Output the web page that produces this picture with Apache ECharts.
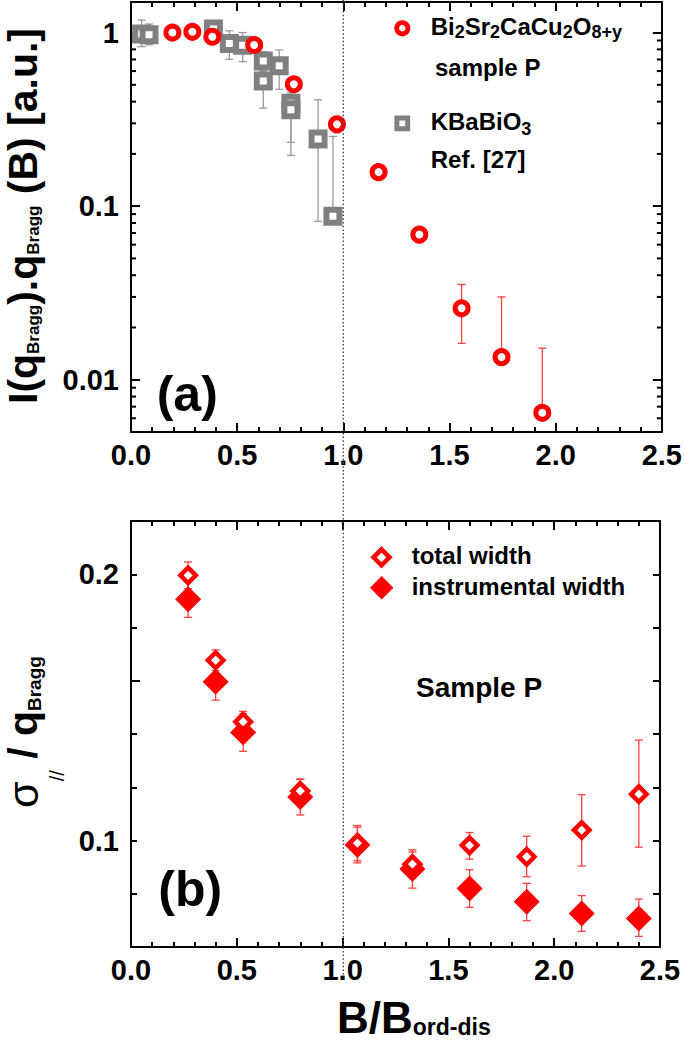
<!DOCTYPE html>
<html><head><meta charset="utf-8">
<script src="https://cdn.jsdelivr.net/npm/echarts@6/dist/echarts.min.js"></script>
<style>html,body{margin:0;padding:0;background:#fff}#c{width:685px;height:1041px}</style>
</head><body><div id="c"></div>
<script>
// ---------- Panel (a): I(q_Bragg).q_Bragg(B) ----------
const bsccoB  = [0.195, 0.289, 0.383, 0.580, 0.767, 0.970, 1.166, 1.358, 1.557, 1.745, 1.937];
const bsccoI  = [1.00, 1.01, 0.946, 0.848, 0.504, 0.296, 0.157, 0.0686, 0.0258, 0.0135, 0.00645];
const bsccoLo = [1.00, 1.01, 0.946, 0.848, 0.504, 0.296, 0.157, 0.0615, 0.0162, 0.0135, 0.00645];
const bsccoHi = [1.00, 1.01, 0.946, 0.848, 0.504, 0.296, 0.157, 0.0686, 0.0354, 0.0300, 0.0152];

const kbbB  = [0.050, 0.085, 0.388, 0.463, 0.526, 0.623, 0.623, 0.698, 0.753, 0.753, 0.881, 0.951];
const kbbI  = [0.98, 0.97, 1.05, 0.865, 0.845, 0.686, 0.526, 0.644, 0.392, 0.359, 0.244, 0.0874];
const kbbLo = [0.83, 0.85, 0.95, 0.701, 0.68, 0.60, 0.367, 0.471, 0.233, 0.196, 0.0817, 0.0874];
const kbbHi = [1.18, 1.12, 1.17, 1.024, 1.00, 0.775, 0.60, 0.793, 0.45, 0.42, 0.41, 0.252];

// ---------- Panel (b): sigma_// / q_Bragg ----------
const widthB  = [0.27, 0.40, 0.53, 0.80, 1.07, 1.33, 1.60, 1.87, 2.13, 2.40];
const totalW  = [0.1996, 0.1677, 0.1446, 0.1186, 0.0990, 0.0911, 0.0982, 0.0939, 0.1039, 0.1174];
const totalHi = [0.2046, 0.1716, 0.1485, 0.1231, 0.1056, 0.0957, 0.1030, 0.1016, 0.1172, 0.1377];
const totalLo = [0.1946, 0.1638, 0.1407, 0.1141, 0.0924, 0.0865, 0.0930, 0.0864, 0.0904, 0.0975];
const instrW  = [0.1906, 0.1596, 0.1406, 0.1163, 0.0983, 0.0893, 0.0820, 0.0770, 0.0726, 0.0707];
const instrHi = [0.1974, 0.1665, 0.1477, 0.1230, 0.1050, 0.0965, 0.0890, 0.0839, 0.0793, 0.0780];
const instrLo = [0.1838, 0.1527, 0.1335, 0.1096, 0.0916, 0.0821, 0.0749, 0.0699, 0.0659, 0.0640];

// ---------- ticks ----------
const yTicksA = [0.01, 0.1, 1];
const yMinorA = [0.006, 0.007, 0.008, 0.009, 0.02, 0.03, 0.04, 0.05, 0.06, 0.07, 0.08, 0.09,
                 0.2, 0.3, 0.4, 0.5, 0.6, 0.7, 0.8, 0.9];
const yTicksB = [0.1, 0.2];
const orderDisorder = 1.0;

const FONT = "'Liberation Sans', Arial, sans-serif";
const RED = '#ff0000', GRAY = '#808080';

const chart = echarts.init(document.getElementById('c'), null, {renderer: 'svg'});

const labelStyle = {fontFamily: FONT, fontWeight: 'bold', fontSize: 29, color: '#000'};
function xAxisPair(grid, withLabels, pos) {
  return {
    type: 'value', gridIndex: grid, position: pos, min: 0, max: 2.5, interval: 0.5,
    axisLine: {show: true, onZero: false, lineStyle: {color: '#000', width: 2}},
    axisTick: {show: true, inside: true, length: 9, lineStyle: {color: '#000', width: 2}},
    minorTick: {show: true, splitNumber: 5, length: 5, lineStyle: {color: '#000', width: 2}},
    splitLine: {show: false}, minorSplitLine: {show: false},
    axisLabel: withLabels ? Object.assign({margin: 8, formatter: v => v.toFixed(1)}, labelStyle) : {show: false}
  };
}
function near(list, v, logMode) {
  return list.find(t => logMode ? Math.abs(Math.log10(v / t)) < 1e-6 : Math.abs(v - t) < 1e-9);
}

const xAxes = [
  xAxisPair(0, true, 'bottom'), xAxisPair(0, false, 'top'),
  xAxisPair(1, true, 'bottom'), xAxisPair(1, false, 'top')
];
const logAxis = (pos, withLabels) => ({
  type: 'log', logBase: 10, gridIndex: 0, position: pos, min: 0.005, max: 1.5,
  axisLine: {show: true, onZero: false, lineStyle: {color: '#000', width: 2}},
  axisTick: {show: true, inside: true, length: 9, lineStyle: {color: '#000', width: 2}},
  splitLine: {show: false},
  axisLabel: withLabels ? Object.assign({margin: 12, showMinLabel: false, showMaxLabel: false,
    formatter: v => { const m = near(yTicksA, v, true); return m === undefined ? '' : String(m); }}, labelStyle)
    : {show: false}
});
const linAxis = (pos, interval, len, withLabels, showLine) => ({
  type: 'value', gridIndex: 1, position: pos, min: 0.06, max: 0.22, interval: interval,
  axisLine: {show: showLine, onZero: false, lineStyle: {color: '#000', width: 2}},
  axisTick: {show: true, inside: true, length: len, lineStyle: {color: '#000', width: 2}},
  splitLine: {show: false},
  axisLabel: withLabels ? Object.assign({margin: 12,
    formatter: v => { const m = near(yTicksB, v, false); return m === undefined ? '' : m.toFixed(1); }}, labelStyle)
    : {show: false}
});
const yAxes = [
  logAxis('left', true), logAxis('right', false),
  linAxis('left', 0.02, 6, true, true), linAxis('left', 0.1, 9, false, false), linAxis('right', 0.02, 7, false, true)
];

function errSeries(xi, yi, xs, ys, lo, hi, color) {
  return {
    type: 'custom', xAxisIndex: xi, yAxisIndex: yi, silent: true, clip: false,
    data: xs.map((x, i) => [x, ys[i], lo[i], hi[i]]),
    encode: {x: 0, y: 1},
    renderItem: (params, api) => {
      const x = api.value(0), v = api.value(1), l = api.value(2), h = api.value(3);
      const pV = api.coord([x, v]), pL = api.coord([x, l]), pH = api.coord([x, h]);
      const ch = [];
      const st = {stroke: color, lineWidth: 1.3};
      if (Math.abs(pL[1] - pH[1]) > 0.5) {
        ch.push({type: 'line', shape: {x1: pL[0], y1: pL[1], x2: pH[0], y2: pH[1]}, style: st});
        if (pH[1] < pV[1] - 0.5) ch.push({type: 'line', shape: {x1: pH[0] - 4, y1: pH[1], x2: pH[0] + 4, y2: pH[1]}, style: st});
        if (pL[1] > pV[1] + 0.5) ch.push({type: 'line', shape: {x1: pL[0] - 4, y1: pL[1], x2: pL[0] + 4, y2: pL[1]}, style: st});
      }
      return {type: 'group', children: ch};
    }
  };
}

const series = [
  { // logarithmic minor ticks of panel (a), on both vertical frame lines
    type: 'custom', xAxisIndex: 0, yAxisIndex: 0, silent: true, clip: false,
    data: yMinorA.map(v => [0, v]), encode: {x: 0, y: 1},
    renderItem: (params, api) => {
      const y = api.coord([0, api.value(1)])[1];
      const cs = params.coordSys;
      const st = {stroke: '#000', lineWidth: 2};
      return {type: 'group', children: [
        {type: 'line', shape: {x1: cs.x, y1: y, x2: cs.x + 5, y2: y}, style: st},
        {type: 'line', shape: {x1: cs.x + cs.width - 5, y1: y, x2: cs.x + cs.width, y2: y}, style: st}
      ]};
    }
  },
  errSeries(0, 0, kbbB, kbbI, kbbLo, kbbHi, '#9a9a9a'),
  {type: 'scatter', name: 'KBaBiO3', xAxisIndex: 0, yAxisIndex: 0, symbol: 'rect', symbolSize: 13,
   itemStyle: {color: '#fff', borderColor: GRAY, borderWidth: 6, opacity: 1},
   data: kbbB.map((x, i) => [x, kbbI[i]])},
  errSeries(0, 0, bsccoB, bsccoI, bsccoLo, bsccoHi, '#ff4040'),
  {type: 'scatter', name: 'Bi2212', xAxisIndex: 0, yAxisIndex: 0, symbol: 'circle', symbolSize: 13,
   itemStyle: {color: '#fff', borderColor: RED, borderWidth: 5, opacity: 1},
   data: bsccoB.map((x, i) => [x, bsccoI[i]])},
  errSeries(2, 2, widthB, instrW, instrLo, instrHi, '#ff4040'),
  {type: 'scatter', name: 'instrumental width', xAxisIndex: 2, yAxisIndex: 2, symbol: 'diamond', symbolSize: [26, 26],
   itemStyle: {color: RED, opacity: 1}, data: widthB.map((x, i) => [x, instrW[i]])},
  errSeries(2, 2, widthB, totalW, totalLo, totalHi, '#ff4040'),
  {type: 'scatter', name: 'total width', xAxisIndex: 2, yAxisIndex: 2, symbol: 'diamond', symbolSize: [15.5, 15.5],
   itemStyle: {color: '#fff', borderColor: RED, borderWidth: 4.5, opacity: 1},
   data: widthB.map((x, i) => [x, totalW[i]])}
];

function txt(x, y, text, size, extra) {
  return Object.assign({type: 'text', x: x, y: y, z: 100, silent: true,
    style: {text: text, fontFamily: FONT, fontWeight: 'bold', fontSize: size, fill: '#000',
            align: 'left', verticalAlign: 'middle'}}, extra || {});
}
function richTxt(x, y, text, mainSize, subSize, pad, extra, styleExtra, align) {
  const m = {fontFamily: FONT, fontWeight: 'bold', fontSize: mainSize, height: mainSize, lineHeight: mainSize, verticalAlign: 'top', fill: '#000'};
  const rich = {m: m, s: {fontFamily: FONT, fontWeight: 'bold', fontSize: subSize, height: subSize,
                lineHeight: subSize + pad, padding: [pad, 0, 0, 0], verticalAlign: 'top', fill: '#000'}};
  if (styleExtra) Object.assign(rich, styleExtra);
  return Object.assign({type: 'text', x: x, y: y, z: 100, silent: true,
    style: {text: text, rich: rich, fontFamily: FONT, fontWeight: 'bold', fontSize: mainSize, fill: '#000',
            align: align || 'left', verticalAlign: 'top'}}, extra || {});
}
function diamond(cx, cy, hw, fill, stroke, lw) {
  return {type: 'polygon', z: 100, silent: true,
    shape: {points: [[cx, cy - hw], [cx + hw, cy], [cx, cy + hw], [cx - hw, cy]]},
    style: {fill: fill, stroke: stroke, lineWidth: lw}};
}

const graphics = [
  // panel (a) legend
  {type: 'circle', z: 100, silent: true, shape: {cx: 402.3, cy: 28.3, r: 5.6}, style: {fill: '#fff', stroke: RED, lineWidth: 4.8}},
  richTxt(430.7, 14, '{m|Bi}{s|2}{m|Sr}{s|2}{m|CaCu}{s|2}{m|O}{s|8+y}', 24, 18, 9),
  txt(435, 67, 'sample P', 24),
  {type: 'rect', z: 100, silent: true, shape: {x: 396.9, y: 117.9, width: 10.8, height: 10.8}, style: {fill: '#fff', stroke: GRAY, lineWidth: 5}},
  richTxt(430.7, 109, '{m|KBaBiO}{s|3}', 24, 18, 11),
  txt(430.7, 159, 'Ref. [27]', 24),
  txt(156.7, 394, '(a)', 50),
  // panel (b) legend
  diamond(381.5, 557.3, 8, '#fff', RED, 4.5),
  diamond(381.7, 587.7, 11.7, RED, null, 0),
  txt(411.7, 555.5, 'total width', 24),
  txt(411.7, 586, 'instrumental width', 24),
  txt(416, 687, 'Sample P', 28),
  txt(158.3, 889, '(b)', 50),
  // axis titles (rotated, reading bottom to top)
  richTxt(2.5, 216, '{m|I(q}{s|Bragg}{m|).q}{s|Bragg}{m| (B) [a.u.]}', 41, 17, 22,
          {rotation: Math.PI / 2}, null, 'center'),
  richTxt(2.5, 732, '{g|σ}{d|//}{m| / q}{s|Bragg}', 41, 19, 22, {rotation: Math.PI / 2},
          {g: {fontFamily: FONT, fontWeight: 'normal', fontSize: 43, height: 41, lineHeight: 41, verticalAlign: 'top', fill: '#000'},
           d: {fontFamily: FONT, fontWeight: 'normal', fontSize: 20, height: 20, lineHeight: 64.5, padding: [44.5, 0, 0, 0], verticalAlign: 'top', fill: '#000'}},
          'center'),
  richTxt(337, 995.5, '{m|B/B}{s|ord-dis}', 44, 23, 20)
];

chart.setOption({
  animation: false,
  backgroundColor: '#fff',
  grid: [
    {left: 131, top: 2, width: 532.5, height: 430},
    {left: 131, top: 521, width: 529, height: 426}
  ],
  xAxis: xAxes,
  yAxis: yAxes,
  series: series,
  graphic: graphics
});

// dotted vertical line at B/B_ord-dis = 1 running through both panels
const px = chart.convertToPixel({xAxisIndex: 0}, orderDisorder);
graphics.push({type: 'line', z: 50, silent: true, shape: {x1: px, y1: 0, x2: px, y2: 975},
  style: {stroke: '#444', lineWidth: 1.4, lineDash: [1.5, 2.2]}});
chart.setOption({graphic: graphics});
</script></body></html>
